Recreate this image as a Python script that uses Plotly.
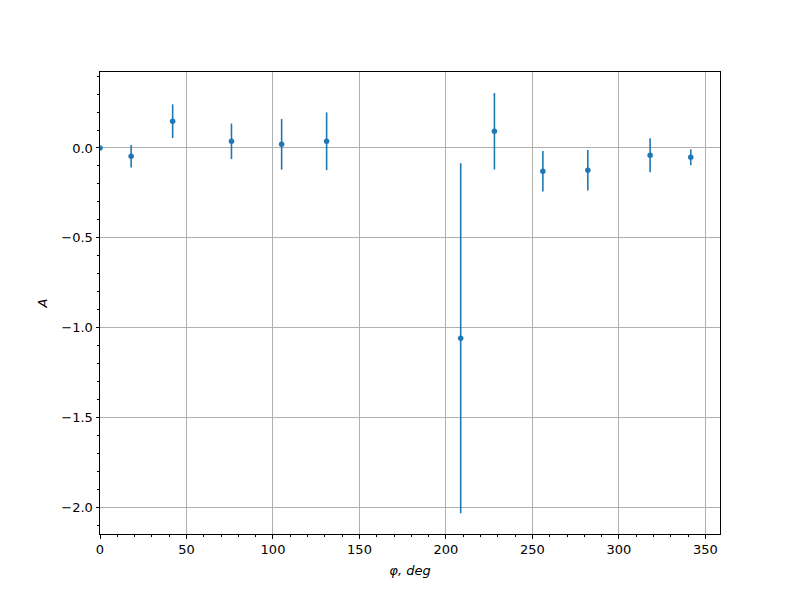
import plotly.graph_objects as go

phi = [0, 18, 42, 76, 105, 131, 208.5, 228, 256, 282, 318, 341.5]
A = [0.0, -0.046, 0.149, 0.037, 0.020, 0.037, -1.060, 0.093, -0.130, -0.124, -0.041, -0.052]
A_err = [0.0, 0.063, 0.094, 0.099, 0.141, 0.161, 0.975, 0.213, 0.113, 0.113, 0.095, 0.044]

x_ticks = [0, 50, 100, 150, 200, 250, 300, 350]
y_ticks = [0.0, -0.5, -1.0, -1.5, -2.0]
y_tick_labels = ["0.0", "\u22120.5", "\u22121.0", "\u22121.5", "\u22122.0"]

color = "#1f77b4"
font_family = "DejaVu Sans"

fig = go.Figure()
fig.add_trace(go.Scatter(
    x=phi, y=A, mode="markers",
    marker=dict(color=color, size=5.5),
    error_y=dict(type="data", array=A_err, visible=True, color=color, thickness=1.6, width=0),
    showlegend=False,
))

axis_common = dict(
    showline=True, linecolor="black", linewidth=1, mirror=True,
    ticks="outside", ticklen=3.5, tickwidth=1, tickcolor="black",
    showgrid=True, gridcolor="#b0b0b0", gridwidth=1,
    zeroline=False,
    tickfont=dict(family=font_family, size=13, color="black"),
)

fig.update_layout(
    width=792, height=592,
    plot_bgcolor="white", paper_bgcolor="white",
    margin=dict(l=92, r=80, t=64, b=66),
    font=dict(family=font_family, color="black"),
    xaxis=dict(
        range=[0, 358.4], tickvals=x_ticks, ticktext=[str(v) for v in x_ticks],
        minor=dict(dtick=10, tick0=0, ticks="outside", ticklen=2, tickcolor="black", showgrid=False),
        title=dict(text="<i>\u03c6, deg</i>", font=dict(family=font_family, size=13), standoff=9),
        **axis_common,
    ),
    yaxis=dict(
        range=[-2.150, 0.423], tickvals=y_ticks, ticktext=y_tick_labels,
        minor=dict(dtick=0.1, tick0=0, ticks="outside", ticklen=2, tickcolor="black", showgrid=False),
        title=dict(text="<i>A</i>", font=dict(family=font_family, size=13), standoff=10),
        **axis_common,
    ),
)

fig.write_html("out.html")
